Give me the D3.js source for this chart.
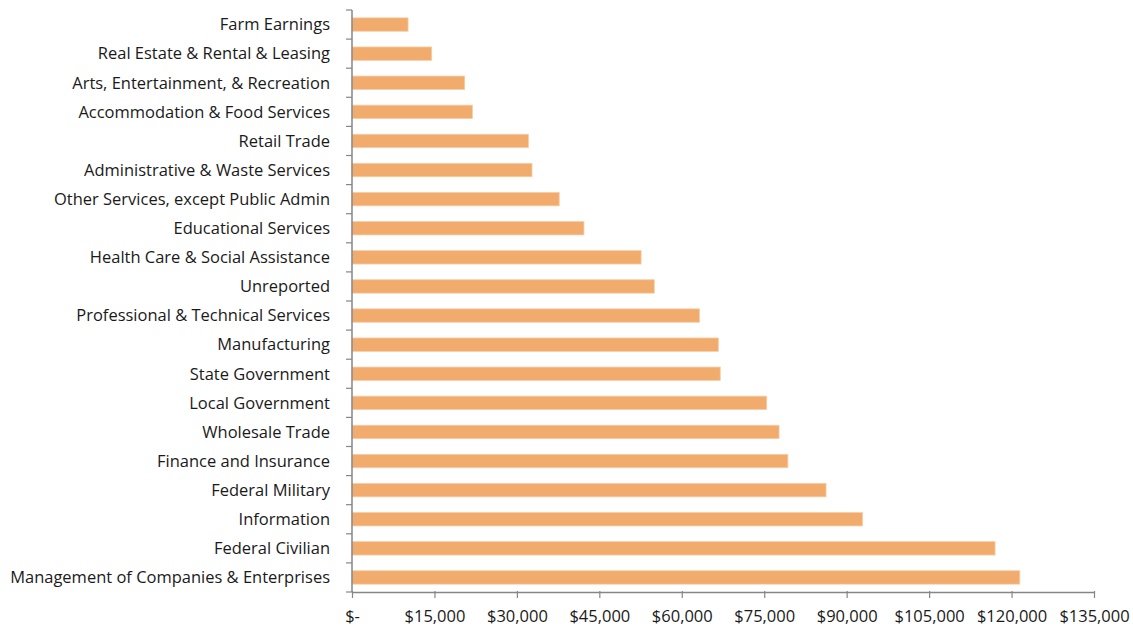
<!DOCTYPE html>
<html>
<head>
<meta charset="utf-8">
<script src="https://cdn.jsdelivr.net/npm/d3@7"></script>
<style>
  html, body { margin: 0; padding: 0; background: #fff; }
  svg { display: block; }
  text { font-family: "Open Sans", Lato, sans-serif; fill: #1a1a1a; }
</style>
</head>
<body>
<svg id="chart" width="1133" height="627"></svg>
<script>
// Average earnings per job by industry
const industries = [
  "Farm Earnings",
  "Real Estate & Rental & Leasing",
  "Arts, Entertainment, & Recreation",
  "Accommodation & Food Services",
  "Retail Trade",
  "Administrative & Waste Services",
  "Other Services, except Public Admin",
  "Educational Services",
  "Health Care & Social Assistance",
  "Unreported",
  "Professional & Technical Services",
  "Manufacturing",
  "State Government",
  "Local Government",
  "Wholesale Trade",
  "Finance and Insurance",
  "Federal Military",
  "Information",
  "Federal Civilian",
  "Management of Companies & Enterprises"
];

const earnings = [
  10200, 14500, 20500, 21900, 32100, 32750, 37700, 42200, 52600, 55000,
  63200, 66650, 67000, 75450, 77700, 79300, 86250, 92900, 117000, 121500
];

const xTicks = [0, 15000, 30000, 45000, 60000, 75000, 90000, 105000, 120000, 135000];

const svg = d3.select("#chart");
const margin = { top: 10, right: 39, bottom: 35, left: 352 };
const width = 1133 - margin.left - margin.right;
const height = 627 - margin.top - margin.bottom;

const g = svg.append("g").attr("transform", `translate(${margin.left},${margin.top})`);

const x = d3.scaleLinear().domain([0, 135000]).range([0, width]);
const y = d3.scaleBand().domain(industries).range([0, height]).paddingInner(0.54).paddingOuter(0.27);

// label size: the longest category name fills the space left of the axis
const labelSpace = 320;
const probe = svg.append("text").style("font-size", "16px").text(industries[industries.length - 1]);
const labelSize = Math.min(17, 16 * labelSpace / probe.node().getComputedTextLength());
probe.remove();

// bars
g.selectAll("rect.bar")
  .data(industries.map((name, i) => ({ name, value: earnings[i] })))
  .join("rect")
  .attr("class", "bar")
  .attr("x", 0)
  .attr("y", d => y(d.name))
  .attr("width", d => x(d.value))
  .attr("height", y.bandwidth())
  .attr("fill", "#f1ab6d")
  .attr("stroke", "#f6cda6")
  .attr("stroke-width", 0.8);

// category axis: ticks sit on band boundaries
const step = height / industries.length;
const yAxis = g.append("g");
yAxis.append("line")
  .attr("x1", 0).attr("x2", 0).attr("y1", 0).attr("y2", height)
  .attr("stroke", "#868686").attr("stroke-width", 1.5);
yAxis.selectAll("line.tick")
  .data(d3.range(industries.length + 1))
  .join("line")
  .attr("class", "tick")
  .attr("x1", -6).attr("x2", 0)
  .attr("y1", i => i * step).attr("y2", i => i * step)
  .attr("stroke", "#868686").attr("stroke-width", 1.2);
yAxis.selectAll("text")
  .data(industries)
  .join("text")
  .attr("x", -22)
  .attr("y", d => y(d) + y.bandwidth() / 2)
  .attr("dy", "0.35em")
  .attr("text-anchor", "end")
  .style("font-size", labelSize + "px")
  .text(d => d);

// value axis
const fmt = v => v === 0 ? "$-" : "$" + d3.format(",")(v);
const xAxis = g.append("g")
  .attr("transform", `translate(0,${height})`)
  .call(d3.axisBottom(x).tickValues(xTicks).tickFormat(fmt).tickSizeInner(6).tickSizeOuter(0).tickPadding(12));
xAxis.select(".domain").attr("stroke", "#868686").attr("stroke-width", 1.5);
xAxis.selectAll(".tick line").attr("stroke", "#868686").attr("stroke-width", 1.2).attr("y1", -1);
xAxis.selectAll(".tick text")
  .style("font-size", labelSize + "px")
  .style("font-family", "'Open Sans', Lato, sans-serif")
  .attr("fill", "#1a1a1a");
</script>
</body>
</html>
